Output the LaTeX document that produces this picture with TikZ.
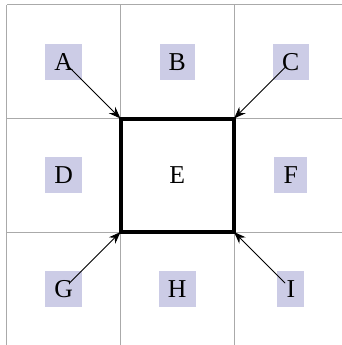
\documentclass[tikz,border=0pt]{standalone}
\usepackage{fontspec}
\setmainfont{Liberation Serif}
\usepackage{tikz}
\usetikzlibrary{arrows.meta, positioning}
\definecolor{cellfill}{RGB}{204,204,230}
\definecolor{gridgray}{RGB}{170,170,170}

\begin{document}
\begin{tikzpicture}[
    cell/.style={rectangle, fill=cellfill, align=center, inner sep=4.6pt, minimum height=18pt, font=\fontsize{12.9}{15}\selectfont},
    centerbox/.style={rectangle, draw=black, line width=2pt, minimum size=2cm, outer sep=0pt, font=\fontsize{12.9}{15}\selectfont},
    gridline/.style={draw=gridgray, line width=0.5pt},
    pointer/.style={draw, black, line width=0.45pt, shorten <=4pt, -{Stealth[length=6pt, width=4.5pt]}}
]
\useasboundingbox (-0.123, 0.01) rectangle (5.886, 6.088);

% ─── Grid ────────────────────────────────────────────────────────────
\foreach \x in {0, 2, 4, 6} {
    \draw[gridline] (\x, 0) -- (\x, 6);
    \draw[gridline] (0, \x) -- (6, \x);
}

% ─── Centre Cell ─────────────────────────────────────────────────────
\node[centerbox] (e) at (3, 3) {E};

% ─── Outer Cells ─────────────────────────────────────────────────────
\foreach \x/\y/\i in {1/5/A, 3/5/B, 5/5/C, 1/3/D, 5/3/F, 1/1/G, 3/1/H, 5/1/I} {
    \node[cell] (cell\i) at (\x, \y) {\i};
}

% ─── Corner Pointers ─────────────────────────────────────────────────
\draw[pointer] (cellA.center) -- (e.north west);
\draw[pointer] (cellC.center) -- (e.north east);
\draw[pointer] (cellG.center) -- (e.south west);
\draw[pointer] (cellI.center) -- (e.south east);

\end{tikzpicture}
\end{document}
